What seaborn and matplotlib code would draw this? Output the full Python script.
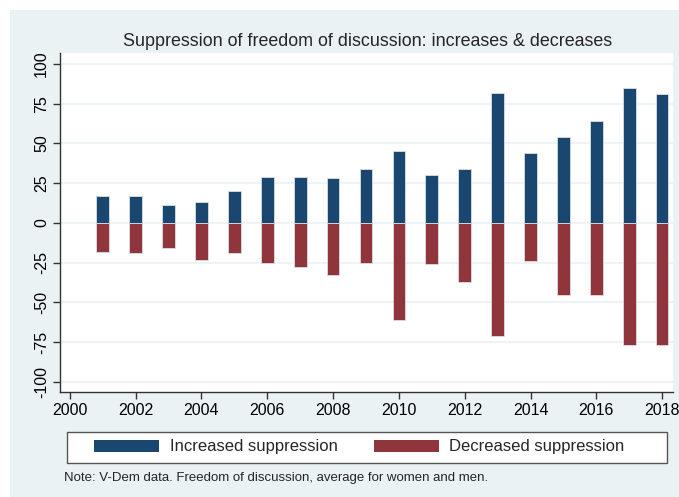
import matplotlib
matplotlib.use("Agg")
import matplotlib.pyplot as plt
from matplotlib.patches import Rectangle, Patch
import seaborn as sns
import pandas as pd

years = list(range(2001, 2019))
increased = [17, 17, 11, 13, 20, 29, 29, 28, 34, 45, 30, 34, 82, 44, 54, 64, 85, 81]
decreased = [-18, -19, -16, -23, -19, -25, -28, -33, -25, -61, -26, -37, -71, -24, -45, -45, -77, -77]
series_names = ["Increased suppression", "Decreased suppression"]
x_ticks = list(range(2000, 2019, 2))
y_ticks = [100, 75, 50, 25, 0, -25, -50, -75, -100]

BLUE = "#1A476F"
RED = "#90353B"
BG = "#EAF2F3"

sns.set_style("white")
plt.rcParams["font.family"] = ["Liberation Sans", "DejaVu Sans"]

df = pd.DataFrame({
    "year": years * 2,
    "value": increased + decreased,
    "series": [series_names[0]] * len(years) + [series_names[1]] * len(years),
})

fig = plt.figure(figsize=(6.79, 4.97), dpi=100, facecolor="white")
fig.patches.append(Rectangle((10 / 679, 0), 1 - 10 / 679, 1 - 10 / 497,
                             transform=fig.transFigure, facecolor=BG,
                             edgecolor="none", zorder=-10))
ax = fig.add_axes([60 / 679, 1 - 392 / 497, 613 / 679, 339 / 497])
ax.set_facecolor("white")

sns.barplot(data=df, x="year", y="value", hue="series", native_scale=True,
            dodge=False, width=0.385, palette=[BLUE, RED], legend=False,
            linewidth=0.6, edgecolor="#d9dfe3", saturation=1, ax=ax, zorder=3)
for ln in list(ax.lines):
    ln.remove()

ax.set_xlim(1999.7, 2018.33)
ax.set_ylim(-106.3, 106.9)
ax.set_xticks(x_ticks)
ax.set_xticklabels([str(t) for t in x_ticks], fontsize=11.5)
ax.set_yticks(y_ticks)
ax.set_yticklabels([str(t) for t in y_ticks], fontsize=11.5, rotation=90, va="center")
ax.yaxis.grid(True, color=BG, linewidth=1.2, zorder=0)
ax.set_axisbelow(True)
ax.set_xlabel("")
ax.set_ylabel("")
for side in ["top", "right"]:
    ax.spines[side].set_visible(False)
for side in ["left", "bottom"]:
    ax.spines[side].set_color("#333333")
    ax.spines[side].set_linewidth(1)
ax.tick_params(axis="both", direction="out", length=5, width=1, color="#333333",
               colors="black", left=True, bottom=True, pad=3)

fig.text(368 / 679, 1 - 41 / 497,
         "Suppression of freedom of discussion: increases & decreases",
         ha="center", va="center", fontsize=12.9)

# legend box drawn explicitly
fig.patches.append(Rectangle((67 / 679, 1 - 463 / 497), 600 / 679, 31 / 497,
                             transform=fig.transFigure, facecolor="white",
                             edgecolor="#555555", linewidth=1, zorder=1))
handles = [Patch(facecolor=BLUE, edgecolor="none", label=series_names[0]),
           Patch(facecolor=RED, edgecolor="none", label=series_names[1])]
leg = fig.legend(handles=handles, loc="center left", ncol=2,
                 bbox_to_anchor=(94 / 679, 1 - 447 / 497),
                 frameon=False, fontsize=12,
                 handlelength=3.9, handleheight=0.72, handletextpad=0.65,
                 columnspacing=2.15, borderpad=0, borderaxespad=0)
leg.set_zorder(5)

fig.text(64 / 679, 1 - 478 / 497,
         "Note: V-Dem data. Freedom of discussion, average for women and men.",
         ha="left", va="center", fontsize=9.5)

fig.savefig("out.png", dpi=100, facecolor="white")
